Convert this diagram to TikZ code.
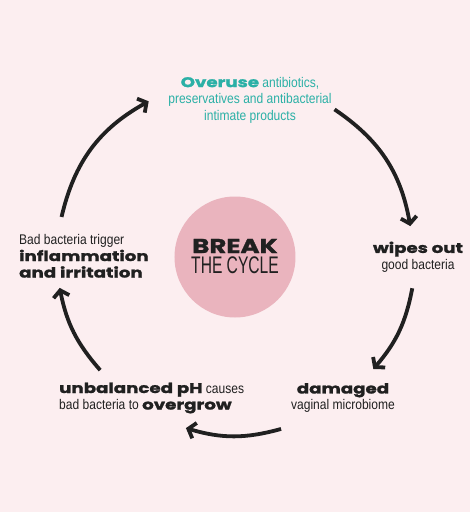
\documentclass[tikz,border=0pt]{standalone}
\usepackage{fontspec}
\setmainfont[FakeStretch=0.86]{Liberation Sans}
\newfontfamily\heavy[FakeStretch=1.3, FakeBold=1.6]{Poppins}
\newfontfamily\narrow[FakeStretch=0.65]{Liberation Sans}
\definecolor{bgpink}{RGB}{252, 238, 240}
\definecolor{discpink}{RGB}{234, 180, 190}
\definecolor{overteal}{RGB}{43, 176, 166}
\definecolor{inkdark}{RGB}{32, 32, 32}
\usetikzlibrary{arrows.meta, positioning}
\newcommand{\hv}[1]{{\heavy\bfseries #1}}

\begin{document}
\begin{tikzpicture}[x=1pt, y=1pt,
  cyc/.style={draw=inkdark, line width=3.8pt, -{Straight Barb[length=6.5pt, width=16pt]}},
  lbl/.style={text=inkdark, font=\fontsize{14}{16.5}\selectfont, inner sep=0pt}]
  \fill[bgpink] (-235,-255) rectangle (235,257);
  \useasboundingbox (-235,-255) rectangle (235,257);

  \node[circle, fill=discpink, minimum size=121pt, inner sep=0pt] (cycle) at (0,0) {};
  \node[text=inkdark, inner sep=0pt, text height=14pt, text depth=0pt,
    font=\heavy\bfseries\fontsize{20}{24}\selectfont] (breaktxt) at (0,11) {BREAK};
  \node[text=inkdark, inner sep=0pt, text height=17pt, text depth=0pt,
    font=\narrow\fontsize{24}{26}\selectfont, below=3pt of breaktxt] (cycletxt) {THE CYCLE};

  \node[lbl, text=overteal, align=center] (overuse) at (15,157)
    {\hv{Overuse} antibiotics,\\ preservatives and antibacterial\\ intimate products};
  \node[lbl, align=center] (wipes) at (183,0)
    {\hv{wipes out}\\ good bacteria};
  \node[lbl, align=center] (damaged) at (108,-141)
    {\hv{damaged}\\ vaginal microbiome};
  \node[lbl, align=left, anchor=west] (phtxt) at (-176,-141)
    {\hv{unbalanced pH} causes\\ bad bacteria to \hv{overgrow}};
  \node[lbl, align=left, anchor=west] (inflam) at (-216,1)
    {Bad bacteria trigger\\ \hv{inflammation}\\ \hv{and irritation}};

  \coordinate (s1) at (167:178);
  \coordinate (e1) at (119:178);
  \coordinate (s2) at (56:178);
  \coordinate (e2) at (10:178);
  \coordinate (s3) at (-10:180);
  \coordinate (e3) at (-39:178);
  \coordinate (s4) at (-75:178);
  \coordinate (e4) at (-106:178);
  \coordinate (s5) at (-140:176);
  \coordinate (e5) at (-170:178);

  \draw[cyc] (s1) to[bend left=24] (e1);
  \draw[cyc] (s2) to[bend left=23] (e2);
  \draw[cyc] (s3) to[bend left=15] (e3);
  \draw[cyc] (s4) to[bend left=16] (e4);
  \draw[cyc] (s5) to[bend left=15] (e5);
\end{tikzpicture}
\end{document}
